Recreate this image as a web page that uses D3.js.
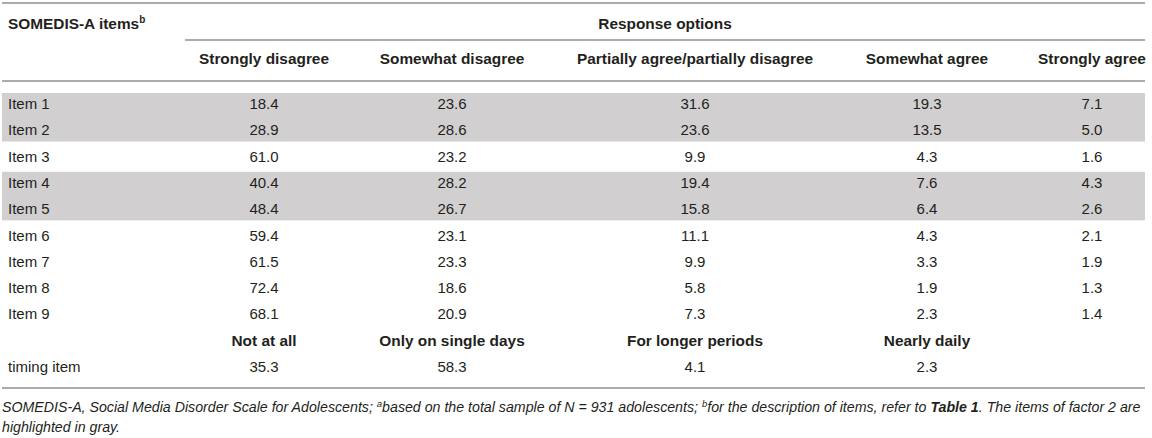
<!DOCTYPE html>
<html lang="en">

<head>
    <script src="https://cdnjs.cloudflare.com/ajax/libs/d3/7.8.5/d3.min.js"></script>
    <style>
        body { margin: 0; background: #fff; }
        text { font-family: "Liberation Sans", Arial, sans-serif; fill: #231f20; }
    </style>
</head>

<body>
    <script>
        var w = 1152;
        var h = 438;

        // data
        var options = ["Strongly disagree", "Somewhat disagree", "Partially agree/partially disagree", "Somewhat agree", "Strongly agree"];
        var items = ["Item 1", "Item 2", "Item 3", "Item 4", "Item 5", "Item 6", "Item 7", "Item 8", "Item 9"];
        var values = [
            [18.4, 23.6, 31.6, 19.3, 7.1],
            [28.9, 28.6, 23.6, 13.5, 5.0],
            [61.0, 23.2, 9.9, 4.3, 1.6],
            [40.4, 28.2, 19.4, 7.6, 4.3],
            [48.4, 26.7, 15.8, 6.4, 2.6],
            [59.4, 23.1, 11.1, 4.3, 2.1],
            [61.5, 23.3, 9.9, 3.3, 1.9],
            [72.4, 18.6, 5.8, 1.9, 1.3],
            [68.1, 20.9, 7.3, 2.3, 1.4]
        ];
        // items of factor 2, in runs of neighbouring rows
        var factor2 = [["Item 1", "Item 2"], ["Item 4", "Item 5"]];
        var timingOptions = ["Not at all", "Only on single days", "For longer periods", "Nearly daily"];
        var timingValues = [35.3, 58.3, 4.1, 2.3];

        var rows = items.concat(["timing header", "timing item"]);

        var svg = d3.select("body").append("svg")
            .attr("width", w)
            .attr("height", h);

        // column centres (layout)
        var x = d3.scaleOrdinal()
            .domain(d3.range(5))
            .range([264, 452, 695, 927, 1092]);

        var y = d3.scaleBand()
            .domain(rows)
            .range([91, 380])
            .padding(0);

        var lineColor = "#ababab";

        function hline(x1, x2, yy) {
            svg.append("line")
                .attr("x1", x1).attr("x2", x2)
                .attr("y1", yy).attr("y2", yy)
                .attr("stroke", lineColor)
                .attr("stroke-width", 2);
        }

        // gray highlight for factor 2
        svg.selectAll("rect.hl")
            .data(factor2)
            .enter()
            .append("rect")
            .attr("class", "hl")
            .attr("x", 2)
            .attr("width", 1143)
            .attr("y", d => y(d[0]) + 2)
            .attr("height", d => y(d[d.length - 1]) + y.bandwidth() - y(d[0]) - 4)
            .attr("fill", "#d1cfd0");

        hline(2, 1145, 3);
        hline(185, 1145, 40);
        hline(2, 1145, 81);
        hline(2, 1145, 388);

        var boldSize = "15.4px";

        // header
        var t = svg.append("text")
            .attr("x", 8).attr("y", 29)
            .attr("font-size", boldSize)
            .attr("font-weight", "bold");
        t.append("tspan").text("SOMEDIS-A items");
        t.append("tspan").attr("font-size", "10px").attr("dy", -6).text("b");

        svg.append("text")
            .attr("x", 665).attr("y", 29)
            .attr("text-anchor", "middle")
            .attr("font-size", boldSize)
            .attr("font-weight", "bold")
            .text("Response options");

        svg.selectAll("text.opt")
            .data(options)
            .enter()
            .append("text")
            .attr("class", "opt")
            .attr("x", (d, i) => x(i))
            .attr("y", 64)
            .attr("text-anchor", "middle")
            .attr("font-size", boldSize)
            .attr("font-weight", "bold")
            .text(d => d);

        // item rows
        var rowG = svg.selectAll("g.row")
            .data(items)
            .enter()
            .append("g")
            .attr("class", "row")
            .attr("transform", d => "translate(0," + (y(d) + y.bandwidth() / 2) + ")");

        rowG.append("text")
            .attr("x", 8).attr("y", 5)
            .attr("font-size", "15px")
            .text(d => d);

        rowG.selectAll("text.val")
            .data((d, i) => values[i])
            .enter()
            .append("text")
            .attr("class", "val")
            .attr("x", (d, i) => x(i))
            .attr("y", 5)
            .attr("text-anchor", "middle")
            .attr("font-size", "15px")
            .text(d => d.toFixed(1));

        // timing item
        var yh = y("timing header") + y.bandwidth() / 2;
        svg.selectAll("text.topt")
            .data(timingOptions)
            .enter()
            .append("text")
            .attr("class", "topt")
            .attr("x", (d, i) => x(i))
            .attr("y", yh + 5)
            .attr("text-anchor", "middle")
            .attr("font-size", boldSize)
            .attr("font-weight", "bold")
            .text(d => d);

        var yt = y("timing item") + y.bandwidth() / 2;
        svg.append("text")
            .attr("x", 8).attr("y", yt + 5)
            .attr("font-size", "15px")
            .text("timing item");

        svg.selectAll("text.tval")
            .data(timingValues)
            .enter()
            .append("text")
            .attr("class", "tval")
            .attr("x", (d, i) => x(i))
            .attr("y", yt + 5)
            .attr("text-anchor", "middle")
            .attr("font-size", "15px")
            .text(d => d.toFixed(1));

        // footnote
        var fs = "14.2px";
        var f1 = svg.append("text")
            .attr("x", 2).attr("y", 412)
            .attr("font-size", fs)
            .attr("font-style", "italic");
        f1.append("tspan").text("SOMEDIS-A, Social Media Disorder Scale for Adolescents; ");
        f1.append("tspan").attr("font-size", "9.5px").attr("dy", -5).text("a");
        f1.append("tspan").attr("dy", 5).text("based on the total sample of N = 931 adolescents; ");
        f1.append("tspan").attr("font-size", "9.5px").attr("dy", -5).text("b");
        f1.append("tspan").attr("dy", 5).text("for the description of items, refer to ");
        f1.append("tspan").attr("font-weight", "bold").text("Table 1");
        f1.append("tspan").text(". The items of factor 2 are");

        svg.append("text")
            .attr("x", 2).attr("y", 432)
            .attr("font-size", fs)
            .attr("font-style", "italic")
            .text("highlighted in gray.");
    </script>
</body>

</html>
